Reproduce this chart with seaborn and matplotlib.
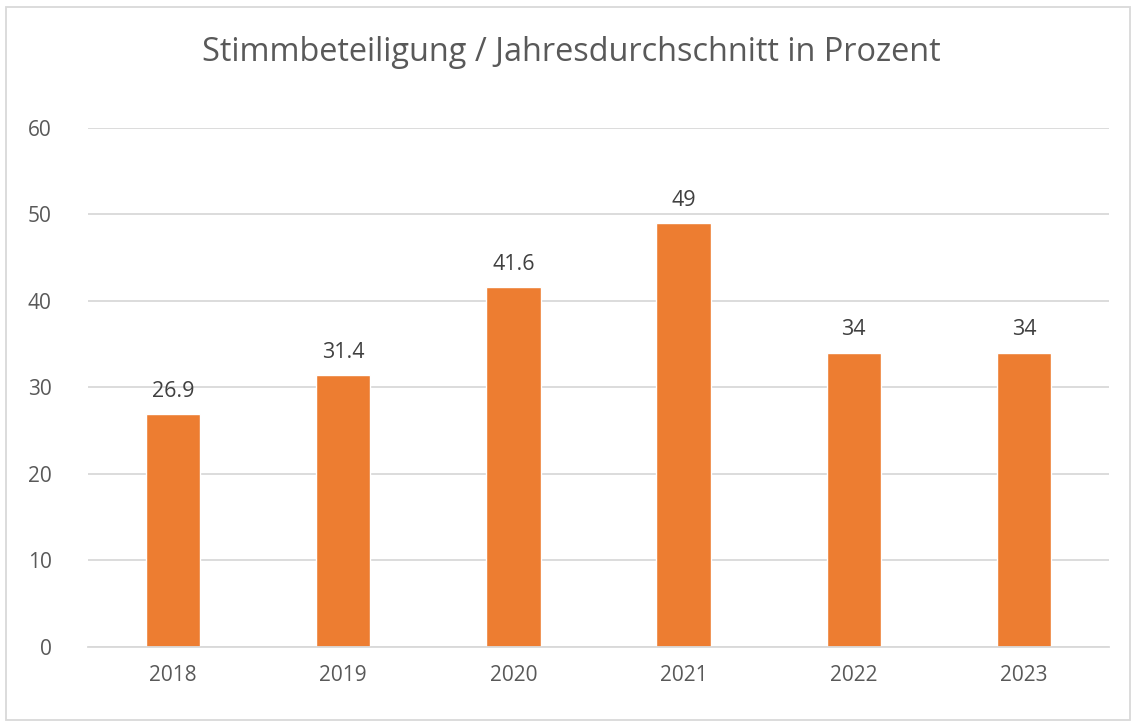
import pandas as pd
import matplotlib.pyplot as plt
import seaborn as sns

# data
years = ["2018", "2019", "2020", "2021", "2022", "2023"]
turnout = [26.9, 31.4, 41.6, 49, 34, 34]
labels = ["26.9", "31.4", "41.6", "49", "34", "34"]

df = pd.DataFrame({"Jahr": years, "Stimmbeteiligung": turnout})

sns.set_theme(style="white")
plt.rcParams["font.family"] = ["Open Sans", "DejaVu Sans"]

fig = plt.figure(figsize=(11.32, 7.24), dpi=100)
ax = fig.add_axes([0.0777, 0.1064, 0.902, 0.7169])

sns.barplot(data=df, x="Jahr", y="Stimmbeteiligung", color="#ED7D31",
            saturation=1, width=0.32, ax=ax)

ax.set_ylim(0, 60)
ax.set_yticks(range(0, 61, 10))
ax.yaxis.grid(True, color="#D9D9D9", linewidth=1.3)
ax.set_axisbelow(True)
for s in ["top", "right", "left"]:
    ax.spines[s].set_visible(False)
ax.spines["bottom"].set_color("#D9D9D9")
ax.spines["bottom"].set_linewidth(1.3)
ax.tick_params(axis="both", length=0, labelsize=15, labelcolor="#595959")
ax.tick_params(axis="y", pad=26)
ax.tick_params(axis="x", pad=13)
ax.set_xlabel("")
ax.set_ylabel("")

# data labels
ax.bar_label(ax.containers[0], labels=labels, padding=9, fontsize=15.5,
             color="#404040")

fig.text(0.5045, 0.928, "Stimmbeteiligung / Jahresdurchschnitt in Prozent",
         ha="center", va="center", fontsize=23.4, color="#595959")

# chart border
fig.add_artist(plt.Rectangle((0.0055, 0.006), 0.9925, 0.985, transform=fig.transFigure,
                             fill=False, edgecolor="#D9D9D9", linewidth=1.3))

fig.savefig("out.png", dpi=100)
